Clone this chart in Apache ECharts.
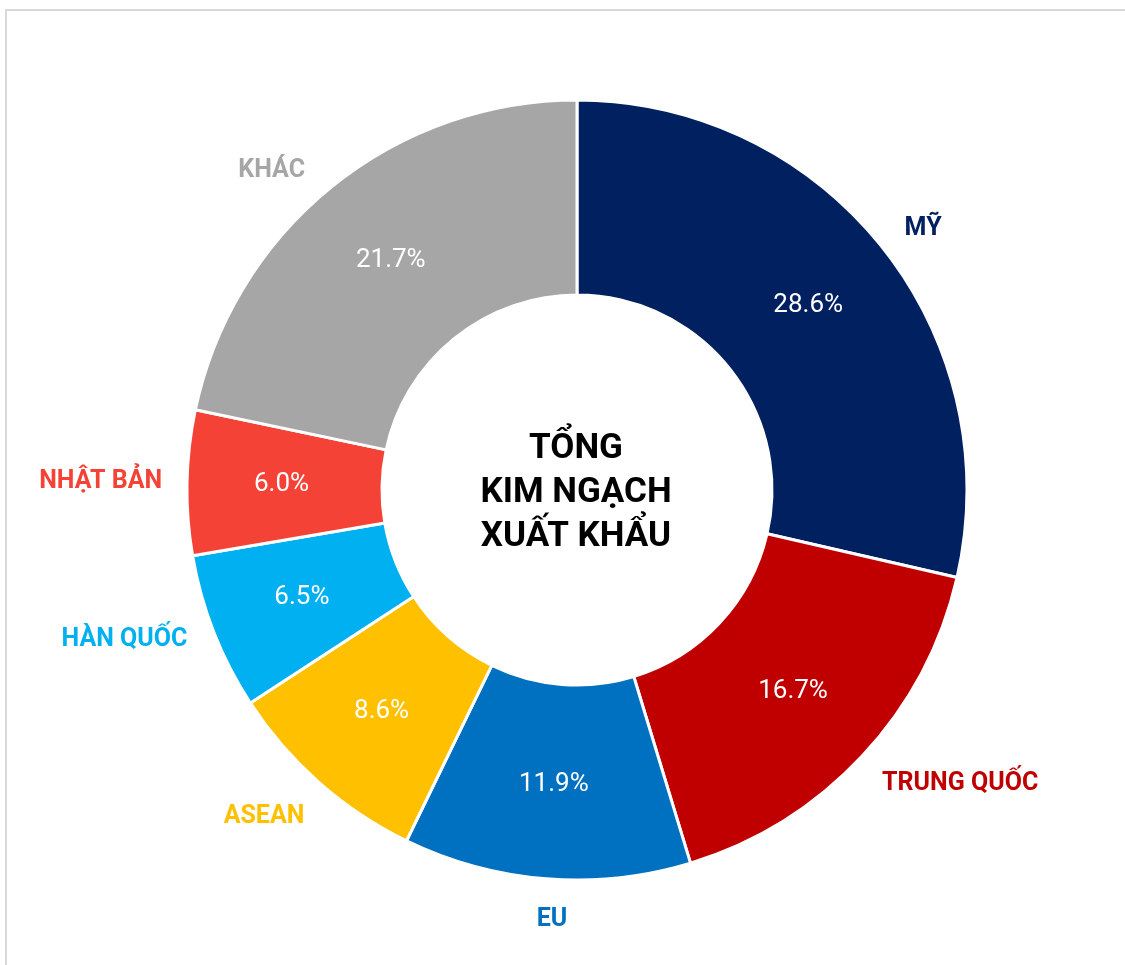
<!DOCTYPE html>
<html>
<head>
<meta charset="utf-8">
<script src="https://cdn.jsdelivr.net/npm/echarts@6/dist/echarts.min.js"></script>
<style>
  html, body { margin: 0; padding: 0; background: #fff; overflow: hidden; }
  #frame { position: absolute; left: 5px; top: 9px; width: 1300px; height: 1100px; border: 2px solid #d9d9d9; }
  #chart { position: absolute; left: 0; top: 0; width: 1125px; height: 965px; }
</style>
</head>
<body>
<div id="frame"></div>
<div id="chart"></div>
<script>
// thị trường xuất khẩu, % tổng kim ngạch
const markets = ["MỸ", "TRUNG QUỐC", "EU", "ASEAN", "HÀN QUỐC", "NHẬT BẢN", "KHÁC"];
const shares = [28.6, 16.7, 11.9, 8.6, 6.5, 6.0, 21.7];
const colors = ["#002060", "#C00000", "#0070C0", "#FFC000", "#00B0F0", "#F44336", "#A6A6A6"];
const centerTitle = "TỔNG\nKIM NGẠCH\nXUẤT KHẨU";

// chỉnh vị trí nhãn tên bên ngoài (length, length2, padding trên/dưới)
const nameLabelTweak = [
  { len: 30, len2: -1, padTop: 5, padBottom: 0 },
  { len: 41, len2: -10, padTop: 7, padBottom: 0 },
  { len: 41, len2: -24, padTop: 7, padBottom: 0 },
  { len: 45, len2: -15, padTop: 6, padBottom: 0 },
  { len: 21, len2: 7, padTop: 6, padBottom: 0 },
  { len: 25, len2: 0, padTop: 6, padBottom: 26 },
  { len: 21, len2: 13, padTop: 6, padBottom: 0 }
];

const center = [577, 490];
const radius = [195, 390];

const chart = echarts.init(document.getElementById("chart"));

const option = {
  animation: false,
  title: {
    text: centerTitle,
    left: center[0] - 6,
    top: center[1] - 2,
    textAlign: "center",
    textVerticalAlign: "middle",
    textStyle: {
      fontFamily: "Roboto",
      fontWeight: "bold",
      fontSize: 35,
      lineHeight: 44,
      color: "#000"
    }
  },
  series: [
    {
      type: "pie",
      center: center,
      radius: radius,
      startAngle: 90,
      clockwise: true,
      avoidLabelOverlap: false,
      silent: true,
      itemStyle: { borderColor: "#fff", borderWidth: 3 },
      label: {
        show: true,
        position: "inside",
        formatter: p => p.value.toFixed(1) + "%",
        color: "#fff",
        fontFamily: "Roboto",
        fontSize: 26
      },
      labelLine: { show: false },
      data: markets.map((m, i) => ({
        name: m,
        value: shares[i],
        itemStyle: { color: colors[i] }
      }))
    },
    {
      type: "pie",
      center: center,
      radius: radius,
      startAngle: 90,
      clockwise: true,
      avoidLabelOverlap: false,
      silent: true,
      z: 1,
      itemStyle: { color: "rgba(0,0,0,0)", borderWidth: 0 },
      label: {
        show: true,
        position: "outside",
        formatter: "{b}",
        distanceToLabelLine: 0,
        fontFamily: "Roboto",
        fontWeight: "bold",
        fontSize: 25
      },
      labelLine: { show: false },
      data: markets.map((m, i) => ({
        name: m,
        value: shares[i],
        label: {
          color: colors[i],
          padding: [nameLabelTweak[i].padTop, 0, nameLabelTweak[i].padBottom, 0]
        },
        labelLine: {
          show: false,
          length: nameLabelTweak[i].len,
          length2: nameLabelTweak[i].len2
        }
      }))
    }
  ]
};

chart.setOption(option);
</script>
</body>
</html>
